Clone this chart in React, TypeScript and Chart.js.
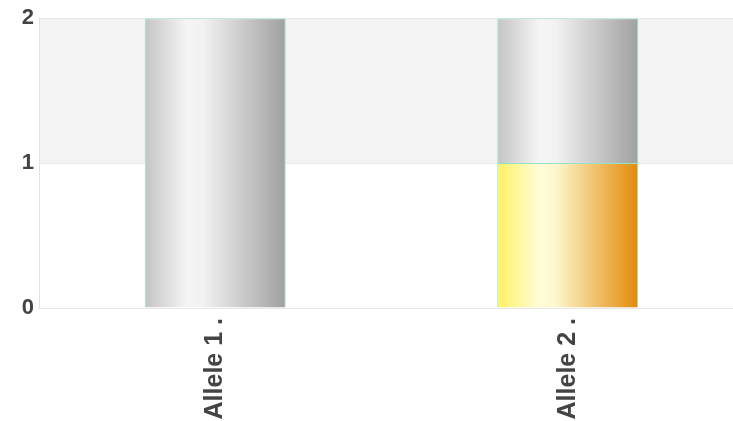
import React, { useEffect, useRef } from "react";
import { Chart, registerables } from "chart.js";

Chart.register(...registerables);

const categories = ["Allele 1 .", "Allele 2 ."];
const orangeValues: (number | null)[] = [null, 1];
const grayValues: (number | null)[] = [2, 1];
const yTicks = [0, 1, 2];

const grayStops: [number, string][] = [
  [0, "#c4c4c4"],
  [0.3, "#f5f5f5"],
  [0.42, "#f1f1f1"],
  [1, "#a0a0a0"],
];
const orangeStops: [number, string][] = [
  [0, "#fff062"],
  [0.3, "#fffdd8"],
  [0.42, "#fdf6cc"],
  [0.6, "#f4d48c"],
  [1, "#e3890a"],
];

function makeGradient(stops: [number, string][], fallback: string) {
  return (ctx: any) => {
    const chart = ctx.chart;
    if (!chart.chartArea || ctx.dataIndex === undefined) return fallback;
    const xs = chart.scales.x;
    const cx = xs.getPixelForValue(ctx.dataIndex);
    const w = (xs.width / categories.length) * 0.4;
    const g = chart.ctx.createLinearGradient(cx - w / 2, 0, cx + w / 2, 0);
    stops.forEach(([o, c]) => g.addColorStop(o, c));
    return g;
  };
}

const bandPlugin = {
  id: "band",
  beforeDraw(chart: any) {
    const { ctx, chartArea } = chart;
    const y = chart.scales.y;
    const top = y.getPixelForValue(2);
    const bot = y.getPixelForValue(1);
    ctx.save();
    ctx.fillStyle = "#f3f3f3";
    ctx.fillRect(chartArea.left, top, chartArea.right - chartArea.left, bot - top);
    ctx.restore();
  },
};

export default function App() {
  const ref = useRef<HTMLCanvasElement>(null);
  useEffect(() => {
    if (!ref.current) return;
    const family = "'Liberation Sans', Arial, sans-serif";
    const chart = new Chart(ref.current, {
      type: "bar",
      data: {
        labels: categories,
        datasets: [
          {
            label: "orange",
            data: orangeValues,
            backgroundColor: makeGradient(orangeStops, "#f4c060"),
            borderColor: "#94e2c4",
            borderWidth: 1,
            barPercentage: 0.4,
            categoryPercentage: 1,
          },
          {
            label: "gray",
            data: grayValues,
            backgroundColor: makeGradient(grayStops, "#cccccc"),
            borderColor: "#94e2c4",
            borderWidth: 1,
            barPercentage: 0.4,
            categoryPercentage: 1,
          },
        ],
      },
      options: {
        animation: false,
        responsive: true,
        maintainAspectRatio: false,
        layout: { padding: { top: 4, left: 0, right: 0, bottom: 0 } },
        plugins: { legend: { display: false }, tooltip: { enabled: false } },
        scales: {
          x: {
            stacked: true,
            grid: { display: false, drawTicks: false },
            border: { display: false },
            ticks: {
              font: { family, size: 25, weight: "bold" },
              color: "#444444",
              minRotation: 90,
              maxRotation: 90,
              padding: 10,
            },
            afterFit: (s: any) => {
              s.height = 113;
            },
          },
          y: {
            stacked: true,
            min: 0,
            max: 2,
            afterBuildTicks: (s: any) => {
              s.ticks = yTicks.map((v) => ({ value: v }));
            },
            grid: { color: "#e8e8e8", drawTicks: false },
            border: { display: true, color: "#e2e2e2" },
            ticks: { font: { family, size: 22, weight: "bold" }, color: "#444444", padding: 5, stepSize: 1 },
            afterFit: (s: any) => {
              s.width = 39;
            },
          },
        },
      },
      plugins: [bandPlugin],
    });
    return () => chart.destroy();
  }, []);
  return (
    <div style={{ position: "fixed", left: 0, top: 0, width: 733, height: 421, overflow: "hidden", background: "#fff" }}>
      <div style={{ position: "absolute", left: 0, top: 0, width: 744, height: 421 }}>
        <canvas ref={ref} />
      </div>
    </div>
  );
}
